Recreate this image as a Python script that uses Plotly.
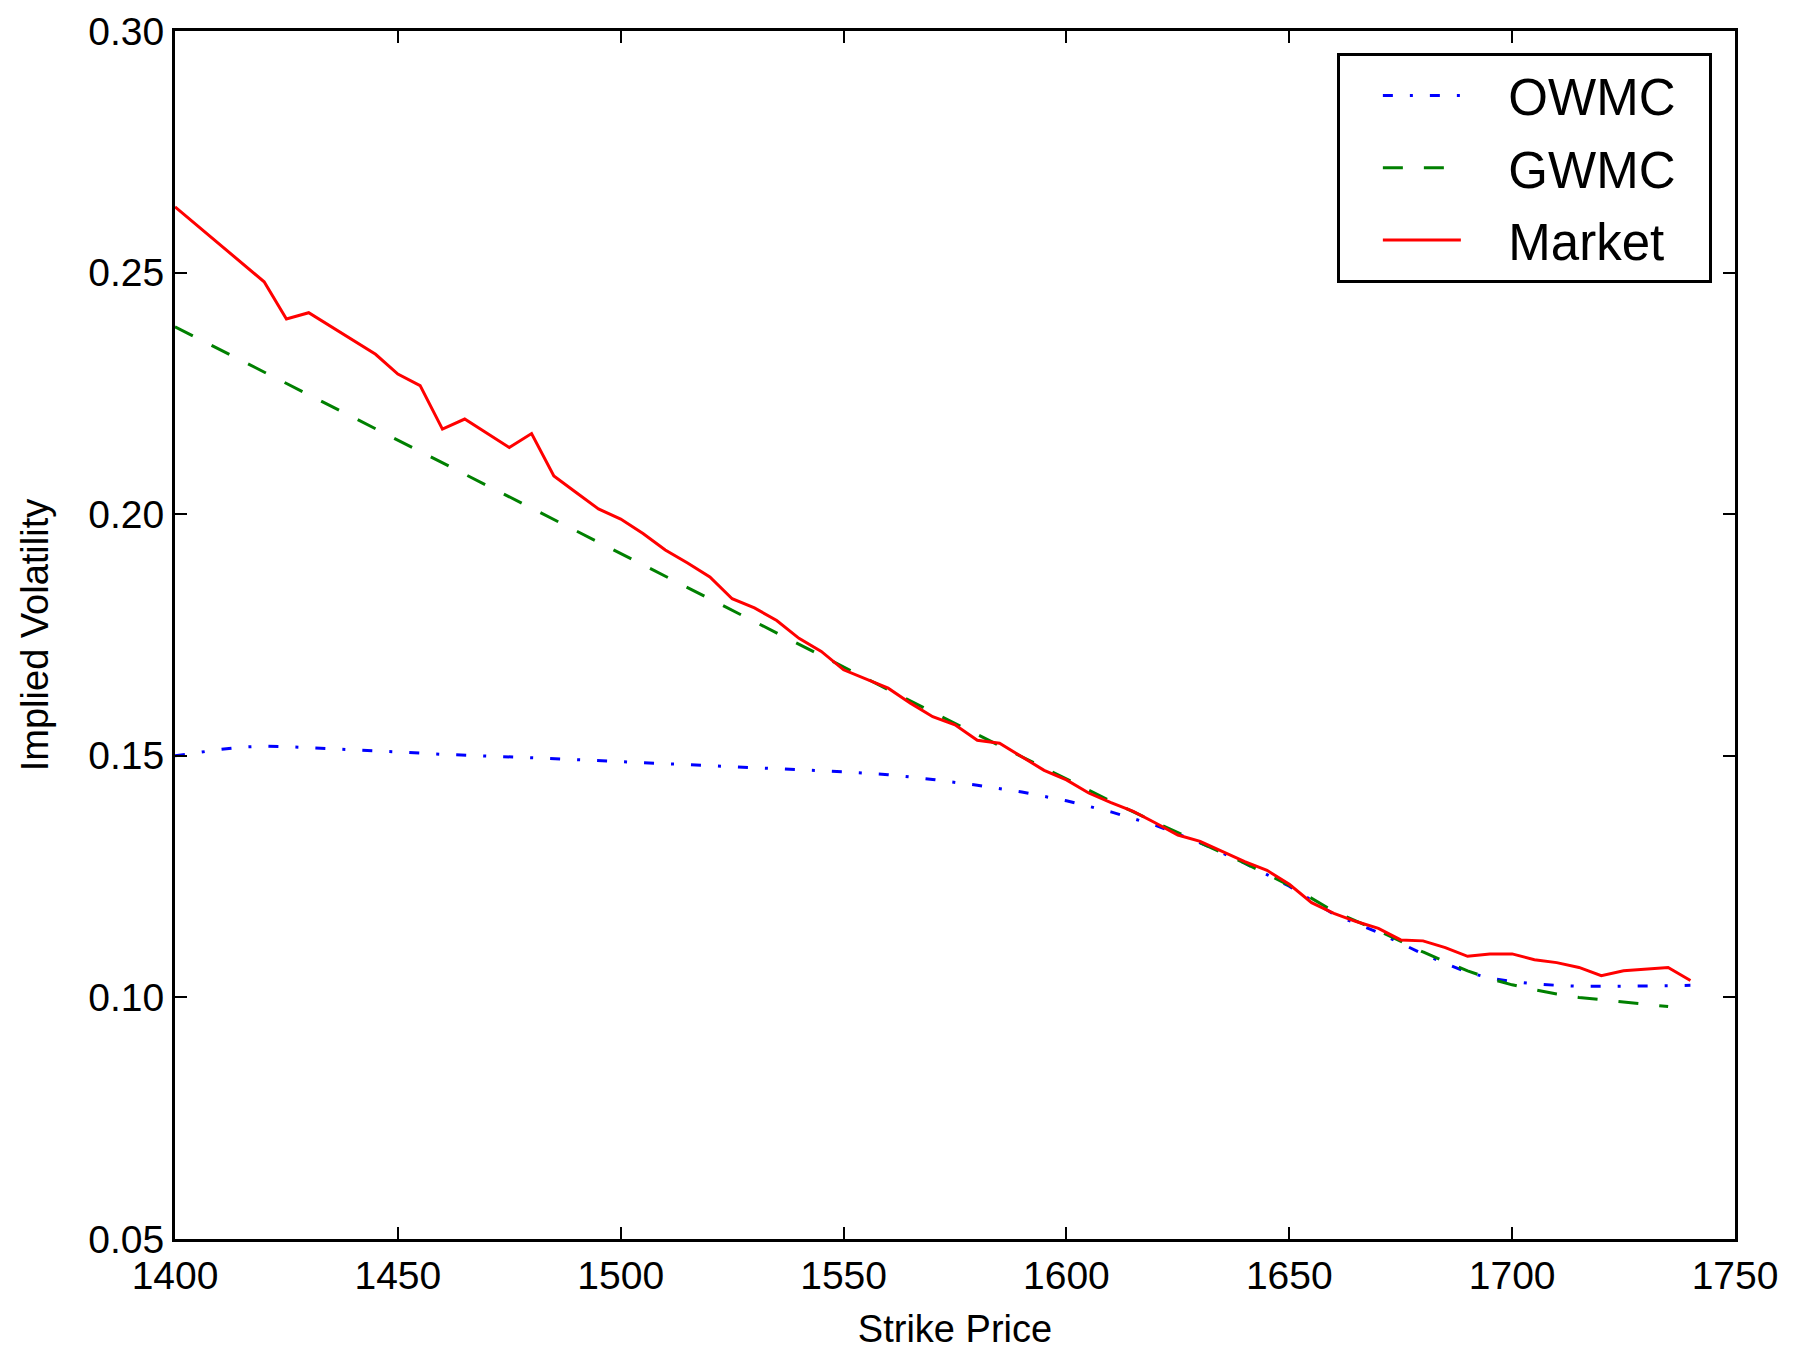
import plotly.graph_objects as go

# Market implied volatilities (strikes with no quote are simply absent)
MARKET_STRIKES = [1400, 1420, 1425, 1430, 1445, 1450, 1455, 1460, 1465, 1475,
                  1480, 1485, 1490, 1495, 1500, 1505, 1510, 1515, 1520, 1525,
                  1530, 1535, 1540, 1545, 1550, 1555, 1560, 1565, 1570, 1575,
                  1580, 1585, 1590, 1595, 1600, 1605, 1610, 1615, 1620, 1625,
                  1630, 1635, 1640, 1645, 1650, 1655, 1660, 1665, 1670, 1675,
                  1680, 1685, 1690, 1695, 1700, 1705, 1710, 1715, 1720, 1725,
                  1735, 1740]
MARKET_IV = [0.2636, 0.2481, 0.2404, 0.2417, 0.2331, 0.2290, 0.2266, 0.2176, 0.2197, 0.2138,
             0.2167, 0.2079, 0.2045, 0.2011, 0.1990, 0.1960, 0.1926, 0.1899, 0.1870, 0.1825,
             0.1806, 0.1780, 0.1743, 0.1716, 0.1678, 0.1659, 0.1640, 0.1609, 0.1581, 0.1564,
             0.1532, 0.1526, 0.1498, 0.1470, 0.1450, 0.1423, 0.1403, 0.1385, 0.1361, 0.1336,
             0.1323, 0.1302, 0.1281, 0.1263, 0.1234, 0.1196, 0.1174, 0.1157, 0.1143, 0.1119,
             0.1117, 0.1103, 0.1085, 0.1090, 0.1090, 0.1078, 0.1072, 0.1062, 0.1045, 0.1055,
             0.1062, 0.1035]

GWMC_STRIKES = [1400, 1410, 1420, 1430, 1440, 1450, 1460, 1470, 1480, 1490,
                1500, 1510, 1520, 1530, 1540, 1550, 1560, 1570, 1580, 1590,
                1600, 1610, 1620, 1630, 1640, 1650, 1660, 1670, 1675, 1680,
                1685, 1690, 1695, 1700, 1705, 1710, 1715, 1720, 1725, 1730,
                1735]
GWMC_IV = [0.2388, 0.2341, 0.2294, 0.2247, 0.2200, 0.2153, 0.2106, 0.2059, 0.2012, 0.1965,
           0.1918, 0.1871, 0.1824, 0.1777, 0.1730, 0.1683, 0.1636, 0.1590, 0.1544, 0.1498,
           0.1452, 0.1406, 0.1362, 0.1320, 0.1278, 0.1232, 0.1178, 0.1138, 0.1116, 0.1094,
           0.1074, 0.1055, 0.1039, 0.1026, 0.1016, 0.1007, 0.1000, 0.0995, 0.0990, 0.0985,
           0.0981]

OWMC_STRIKES = [1400, 1405, 1410, 1415, 1420, 1425, 1430, 1440, 1450, 1460,
                1470, 1480, 1490, 1500, 1510, 1520, 1530, 1540, 1550, 1560,
                1570, 1580, 1590, 1600, 1610, 1620, 1630, 1640, 1650, 1660,
                1670, 1680, 1685, 1690, 1695, 1700, 1705, 1710, 1715, 1720,
                1725, 1730, 1735, 1740]
OWMC_IV = [0.1500, 0.1507, 0.1513, 0.1518, 0.1520, 0.1519, 0.1517, 0.1513, 0.1508, 0.1503,
           0.1500, 0.1496, 0.1492, 0.1488, 0.1484, 0.1480, 0.1476, 0.1472, 0.1467, 0.1461,
           0.1451, 0.1439, 0.1425, 0.1407, 0.1384, 0.1356, 0.1320, 0.1278, 0.1230, 0.1172,
           0.1134, 0.1090, 0.1070, 0.1052, 0.1040, 0.1033, 0.1028, 0.1025, 0.1023, 0.1023,
           0.1023, 0.1024, 0.1024, 0.1025]

FONT = "Liberation Sans, Arial, sans-serif"
PAD = "\u00a0"  # non-breaking space, used to widen the legend like matplotlib's


def main():
    """Build the implied volatility comparison chart and save it."""
    fig = go.Figure()
    _add_lines(fig)
    _style_axes(fig)
    fig.write_html("out.html")


def _add_lines(fig):
    """Add model curves and market quotes (market drawn last, on top)."""
    series = [
        ("OWMC", OWMC_STRIKES, OWMC_IV, dict(color="#0000ff", width=3, dash="10px,17px,3px,17px")),
        ("GWMC", GWMC_STRIKES, GWMC_IV, dict(color="#008000", width=3, dash="20px,21px")),
        ("Market", MARKET_STRIKES, MARKET_IV, dict(color="#ff0000", width=3)),
    ]
    for name, strikes, vols, line in series:
        fig.add_trace(go.Scatter(
            x=strikes, y=vols, mode="lines", line=line,
            name=PAD * 3 + name + PAD * 2, legendgroup=name,
        ))


def _style_axes(fig):
    """Matplotlib-classic look: boxed axes, inward ticks, framed legend."""
    axis_common = dict(
        showline=True, linewidth=3, linecolor="black", mirror="ticks",
        ticks="inside", ticklen=12, tickwidth=1.5, tickcolor="black",
        showgrid=False, zeroline=False, automargin=False,
        tickfont=dict(family=FONT, size=39, color="black"),
        title_font=dict(family=FONT, size=38, color="black"),
    )
    fig.update_xaxes(range=[1400, 1750], dtick=50, tick0=1400,
                     title_text="Strike Price", title_standoff=20, **axis_common)
    fig.update_yaxes(range=[0.05, 0.30], dtick=0.05, tick0=0.05, tickformat=".2f",
                     title_text="Implied Volatility", title_standoff=28, **axis_common)

    # page body adds an 8px offset, so the figure is 8px smaller on each side
    fig.update_layout(
        width=1796, height=1347,
        margin=dict(l=167, r=69, t=23, b=116),
        plot_bgcolor="white", paper_bgcolor="white",
        showlegend=True,
        legend=dict(
            x=0.9853, y=0.982, xanchor="right", yanchor="top",
            bgcolor="white", bordercolor="black", borderwidth=3,
            font=dict(family=FONT, size=51, color="black"),
            title=dict(text=PAD * 2, side="left", font=dict(family=FONT, size=50)),
            itemwidth=78, tracegroupgap=3,
        ),
    )


if __name__ == "__main__":
    main()
